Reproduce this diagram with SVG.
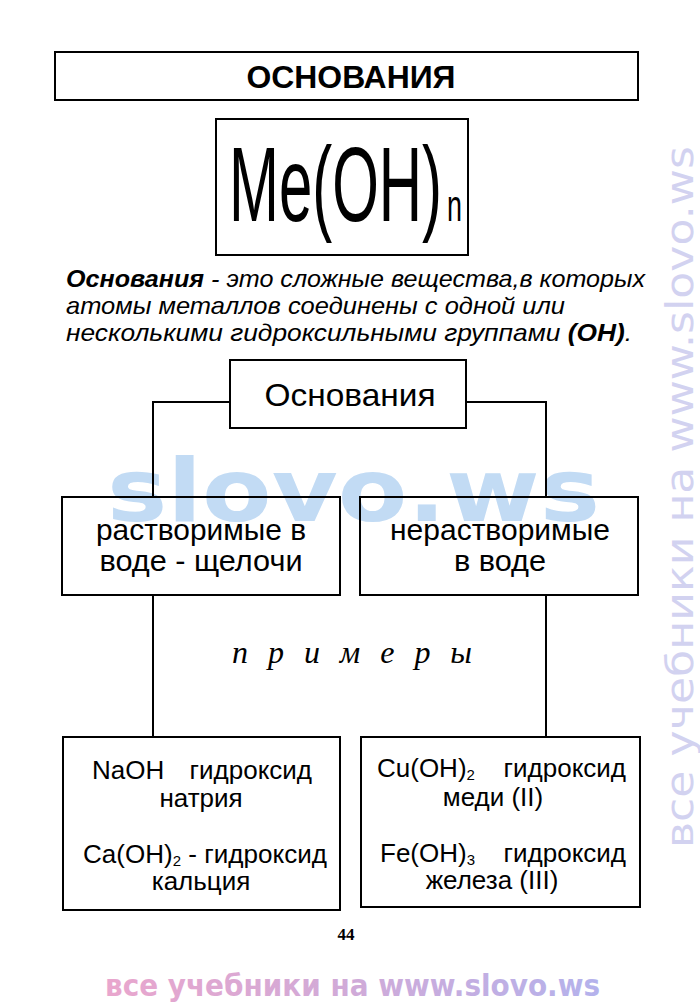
<svg xmlns="http://www.w3.org/2000/svg" width="700" height="1008" viewBox="0 0 700 1008">
<defs>
<linearGradient id="wmH" x1="105" y1="0" x2="600" y2="0" gradientUnits="userSpaceOnUse">
<stop offset="0" stop-color="#e9a6cd"/>
<stop offset="0.5" stop-color="#d0aad8"/>
<stop offset="1" stop-color="#b4b2ec"/>
</linearGradient>
<linearGradient id="wmV" x1="0" y1="850" x2="0" y2="145" gradientUnits="userSpaceOnUse">
<stop offset="0" stop-color="#ecd2e6"/>
<stop offset="1" stop-color="#d2d2f0"/>
</linearGradient>
</defs>
<style>
.box{fill:none;stroke:#000;stroke-width:2}
.con{fill:none;stroke:#000;stroke-width:2}
.t{font-family:"Liberation Sans","Arial",sans-serif;fill:#000}
.c{text-anchor:middle}
.sub{font-size:15px}
</style>
<rect width="700" height="1008" fill="#fff"/>

<!-- watermarks -->
<text x="107" y="521" font-family="'DejaVu Sans','Liberation Sans',sans-serif" font-weight="bold" font-size="88" fill="#c2dbf4" textLength="493" lengthAdjust="spacingAndGlyphs">slovo.ws</text>
<text x="105" y="996" font-family="'DejaVu Sans','Liberation Sans',sans-serif" font-weight="bold" font-size="30" fill="url(#wmH)" textLength="495" lengthAdjust="spacingAndGlyphs">все учебники на www.slovo.ws</text>
<text transform="translate(693,848) rotate(-90)" x="0" y="0" font-family="'DejaVu Sans','Liberation Sans',sans-serif" font-size="37" fill="url(#wmV)" textLength="702" lengthAdjust="spacingAndGlyphs">все учебники на www.slovo.ws</text>

<g id="title">
<rect class="box" x="55" y="52" width="583" height="48"/>
<text class="t c" x="351" y="88" font-size="32" font-weight="bold" textLength="209" lengthAdjust="spacingAndGlyphs">ОСНОВАНИЯ</text>
</g>

<g id="formula">
<rect class="box" x="216" y="119" width="252" height="136"/>
<text class="t" x="229" y="221" font-size="106"><tspan textLength="213" lengthAdjust="spacingAndGlyphs">Me(OH)</tspan><tspan x="447" font-size="44" textLength="15" lengthAdjust="spacingAndGlyphs">n</tspan></text>
</g>

<g id="definition" class="t" font-size="24" font-style="italic">
<text x="66" y="287" textLength="579" lengthAdjust="spacingAndGlyphs"><tspan font-weight="bold">Основания</tspan> - это сложные вещества,в которых</text>
<text x="66" y="314" textLength="499" lengthAdjust="spacingAndGlyphs">атомы металлов соединены с одной или</text>
<text x="66" y="341" textLength="566" lengthAdjust="spacingAndGlyphs">несколькими гидроксильными группами <tspan font-weight="bold">(ОН)</tspan>.</text>
</g>

<g id="connectors">
<polyline class="con" points="230,402 153,402 153,497"/>
<polyline class="con" points="466,402 546,402 546,497"/>
<line class="con" x1="153" y1="595" x2="153" y2="737"/>
<line class="con" x1="546" y1="595" x2="546" y2="737"/>
</g>

<g id="root">
<rect class="box" x="230" y="360" width="236" height="68"/>
<text class="t c" x="350" y="406" font-size="32" textLength="171" lengthAdjust="spacingAndGlyphs">Основания</text>
</g>

<g id="soluble">
<rect class="box" x="62" y="497" width="278" height="98"/>
<text class="t c" x="201" y="540" font-size="30" textLength="210" lengthAdjust="spacingAndGlyphs">растворимые в</text>
<text class="t c" x="201" y="571" font-size="30" textLength="203" lengthAdjust="spacingAndGlyphs">воде - щелочи</text>
</g>

<g id="insoluble">
<rect class="box" x="360" y="497" width="278" height="98"/>
<text class="t c" x="500" y="540" font-size="30" textLength="220" lengthAdjust="spacingAndGlyphs">нерастворимые</text>
<text class="t c" x="500" y="571" font-size="30" textLength="92" lengthAdjust="spacingAndGlyphs">в воде</text>
</g>

<g id="examples-label">
<text x="232" y="663" font-family="'Liberation Serif','Times New Roman',serif" font-style="italic" font-size="32" fill="#000" textLength="240" lengthAdjust="spacing">п р и м е р ы</text>
</g>

<g id="examples-soluble">
<rect class="box" x="63" y="737" width="277" height="173"/>
<text class="t" x="92" y="779" font-size="26">NaOH</text>
<text class="t" x="312" y="779" font-size="26" text-anchor="end">гидроксид</text>
<text class="t c" x="201" y="807" font-size="26">натрия</text>
<text class="t" x="83" y="863" font-size="26" textLength="244" lengthAdjust="spacingAndGlyphs">Ca(OH)<tspan class="sub" dy="3">2</tspan><tspan dy="-3"> - гидроксид</tspan></text>
<text class="t c" x="201" y="890" font-size="26">кальция</text>
</g>

<g id="examples-insoluble">
<rect class="box" x="361" y="737" width="279" height="170"/>
<text class="t" x="377" y="777" font-size="26">Cu(OH)<tspan class="sub" dy="3">2</tspan></text>
<text class="t" x="626" y="777" font-size="26" text-anchor="end">гидроксид</text>
<text class="t c" x="493" y="806" font-size="26">меди (II)</text>
<text class="t" x="380" y="862" font-size="26">Fe(OH)<tspan class="sub" dy="3">3</tspan></text>
<text class="t" x="626" y="862" font-size="26" text-anchor="end">гидроксид</text>
<text class="t c" x="492" y="889" font-size="26">железа (III)</text>
</g>

<text x="346" y="940" font-family="'Liberation Serif','Times New Roman',serif" font-weight="bold" font-size="17" fill="#000" text-anchor="middle">44</text>
</svg>
